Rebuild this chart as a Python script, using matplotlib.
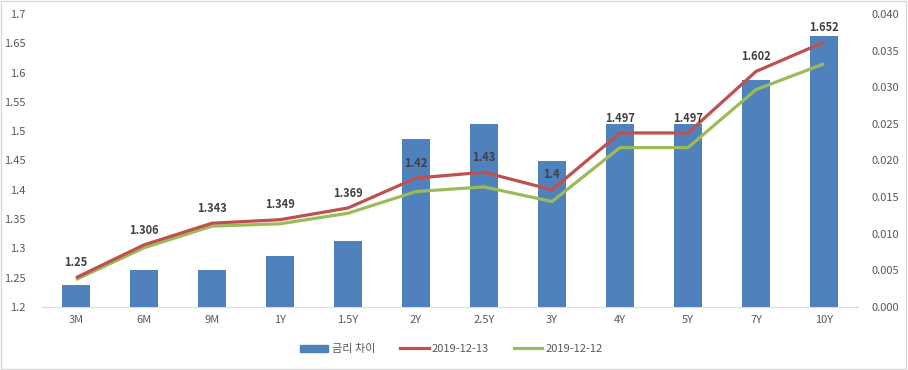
import matplotlib
matplotlib.use("Agg")
import matplotlib.pyplot as plt
import matplotlib.patches as mpatches
from matplotlib.lines import Line2D
from matplotlib.ticker import FixedLocator, FuncFormatter

plt.rcParams["font.family"] = ["Noto Sans CJK KR", "DejaVu Sans"]

# ── data ──
tenors   = ["3M", "6M", "9M", "1Y", "1.5Y", "2Y", "2.5Y", "3Y", "4Y", "5Y", "7Y", "10Y"]
rate_1213 = [1.25, 1.306, 1.343, 1.349, 1.369, 1.42, 1.43, 1.4, 1.497, 1.497, 1.602, 1.652]
rate_1212 = [1.247, 1.301, 1.338, 1.342, 1.360, 1.397, 1.405, 1.380, 1.472, 1.472, 1.571, 1.615]
spread    = [0.003, 0.005, 0.005, 0.007, 0.009, 0.023, 0.025, 0.020, 0.025, 0.025, 0.031, 0.037]
label_1213 = ["1.25", "1.306", "1.343", "1.349", "1.369", "1.42", "1.43", "1.4",
              "1.497", "1.497", "1.602", "1.652"]

left_ticks  = [1.2, 1.25, 1.3, 1.35, 1.4, 1.45, 1.5, 1.55, 1.6, 1.65, 1.7]
right_ticks = [0.000, 0.005, 0.010, 0.015, 0.020, 0.025, 0.030, 0.035, 0.040]

colors = {"bar": "#4F81BD", "red": "#C0504D", "green": "#9BBB59",
          "text": "#595959", "label": "#404040", "axis": "#D9D9D9"}

fig = plt.figure(figsize=(9.08, 3.70), dpi=100)
fig.patch.set_facecolor("white")
ax = fig.add_axes([42 / 908, 1 - 307 / 370, 816 / 908, 293 / 370])
ax2 = ax.twinx()

x = list(range(len(tenors)))

# bars on the right axis, drawn behind the lines
ax2.bar(x, spread, width=0.41, color=colors["bar"], zorder=1)
ax2.set_ylim(0, 0.040)
ax2.yaxis.set_major_locator(FixedLocator(right_ticks))
ax2.yaxis.set_major_formatter(FuncFormatter(lambda v, p: f"{v:.3f}"))

# lines on the left axis
ax.set_zorder(ax2.get_zorder() + 1)
ax.patch.set_visible(False)
ax.plot(x, rate_1213, color=colors["red"], linewidth=2.3, solid_capstyle="butt", zorder=3)
ax.plot(x, rate_1212, color=colors["green"], linewidth=2.3, solid_capstyle="butt", zorder=2)
ax.set_ylim(1.2, 1.7)
ax.set_xlim(-0.5, len(tenors) - 0.5)
ax.yaxis.set_major_locator(FixedLocator(left_ticks))
ax.yaxis.set_major_formatter(FuncFormatter(lambda v, p: f"{v:g}"))
ax.set_xticks(x)
ax.set_xticklabels(tenors)

for xi, yi, lab in zip(x, rate_1213, label_1213):
    ax.annotate(lab, (xi, yi), xytext=(0, 6), textcoords="offset points",
                ha="center", va="bottom", fontsize=8, fontweight="bold",
                color=colors["label"], zorder=4)

for a in (ax, ax2):
    for s in a.spines.values():
        s.set_visible(False)
    a.tick_params(length=0, labelsize=8, colors=colors["text"])
ax.spines["bottom"].set_visible(True)
ax.spines["bottom"].set_color(colors["axis"])
ax.tick_params(axis="y", pad=12)
ax.tick_params(axis="x", pad=6)
ax2.tick_params(axis="y", pad=10)

handles = [mpatches.Patch(color=colors["bar"], label="금리 차이"),
           Line2D([], [], color=colors["red"], linewidth=2.3, label="2019-12-13"),
           Line2D([], [], color=colors["green"], linewidth=2.3, label="2019-12-12")]
leg = fig.legend(handles=handles, loc="center", bbox_to_anchor=(0.497, 1 - 349 / 370),
                 ncol=3, frameon=False, fontsize=8, handlelength=2.6, handleheight=0.6,
                 columnspacing=2.2, handletextpad=0.3)
for t in leg.get_texts():
    t.set_color(colors["text"])

# outer chart border
fig.add_artist(mpatches.Rectangle((0.001, 0.002), 0.997, 0.995, transform=fig.transFigure,
                                  fill=False, edgecolor="#D9D9D9", linewidth=1))

fig.savefig("out.png", dpi=100, facecolor=fig.get_facecolor())
